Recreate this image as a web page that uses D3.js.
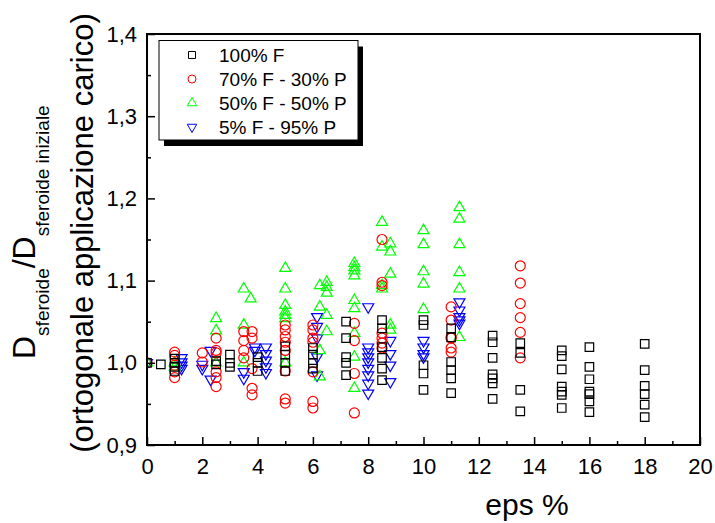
<!DOCTYPE html>
<html>
<head>
<meta charset="utf-8">
<script src="https://cdn.jsdelivr.net/npm/d3@7"></script>
<style>
  body { margin: 0; background: #fff; }
  text { font-family: Arial, "Liberation Sans", Helvetica, sans-serif; fill: #000; }
</style>
</head>
<body>
<div id="chart"></div>
<script>
// Data: [eps %, D/D0]
const seriesNames = ['100% F', '70% F - 30% P', '50% F - 50% P', '5% F - 95% P'];

const f100 = [
  [0, 1.0], [0.5, 0.998],
  [1, 1.005], [1, 1.0], [1, 0.995], [1, 0.99],
  [2.5, 1.002], [2.5, 0.998],
  [3, 1.01], [3, 1.0], [3, 0.995],
  [4, 1.007], [4, 1.0], [4, 0.99],
  [5, 1.02], [5, 1.01], [5, 1.0], [5, 0.99],
  [6, 1.018], [6, 1.01], [6, 1.0], [6, 0.993],
  [7.2, 1.05], [7.2, 1.03], [7.2, 1.007], [7.2, 1.0], [7.2, 0.985],
  [8.5, 1.052], [8.5, 1.042], [8.5, 1.019], [8.5, 1.006], [8.5, 0.993], [8.5, 0.979],
  [10, 1.052], [10, 1.046], [10, 0.997], [10, 0.987], [10, 0.967],
  [11, 1.042], [11, 1.031], [11, 1.001], [11, 0.991], [11, 0.981], [11, 0.963],
  [12.5, 1.033], [12.5, 1.025], [12.5, 1.006], [12.5, 0.986], [12.5, 0.981], [12.5, 0.975], [12.5, 0.956],
  [13.5, 1.024], [13.5, 1.012], [13.5, 0.967], [13.5, 0.941],
  [15, 1.015], [15, 1.008], [15, 0.992], [15, 0.971], [15, 0.965], [15, 0.961], [15, 0.945],
  [16, 1.019], [16, 0.995], [16, 0.98], [16, 0.965], [16, 0.962], [16, 0.953], [16, 0.94],
  [18, 1.023], [18, 0.991], [18, 0.972], [18, 0.962], [18, 0.949], [18, 0.934]
];

const f70p30 = [
  [0, 1.0],
  [1, 1.013], [1, 1.009], [1, 0.997], [1, 0.989], [1, 0.982],
  [2, 1.012], [2, 1.001],
  [2.5, 1.03], [2.5, 1.015], [2.5, 1.012], [2.5, 0.989], [2.5, 0.982], [2.5, 0.971],
  [3.5, 1.038], [3.5, 1.027], [3.5, 1.015], [3.5, 1.006],
  [3.8, 1.038], [3.8, 1.03], [3.8, 0.993], [3.8, 0.969], [3.8, 0.961],
  [5, 1.046], [5, 1.04], [5, 1.032], [5, 1.025], [5, 1.015], [5, 0.99], [5, 0.956], [5, 0.951],
  [6, 1.046], [6, 1.04], [6, 1.03], [6, 1.025], [6, 0.989], [6, 0.953], [6, 0.945],
  [7.5, 1.048], [7.5, 1.027], [7.5, 0.987], [7.5, 0.939],
  [8.5, 1.15], [8.5, 1.098], [8.5, 1.094], [8.5, 1.036], [8.5, 1.03], [8.5, 1.024], [8.5, 1.018],
  [11, 1.068], [11, 1.052], [11, 1.031], [11, 1.03], [11, 1.018], [11, 1.013],
  [13.5, 1.118], [13.5, 1.097], [13.5, 1.072], [13.5, 1.055], [13.5, 1.037], [13.5, 1.006]
];

const f50p50 = [
  [0, 1.0],
  [1, 1.0], [1, 0.995],
  [2.5, 1.054], [2.5, 1.039], [2.5, 1.0],
  [3.5, 1.09], [3.5, 1.046], [3.5, 1.0],
  [3.75, 1.078],
  [5, 1.115], [5, 1.09], [5, 1.07], [5, 1.062], [5, 1.058], [5, 1.054], [5, 1.0],
  [6.25, 1.094], [6.25, 1.068], [6.25, 1.015], [6.25, 0.983],
  [6.5, 1.098], [6.5, 1.092], [6.5, 1.085], [6.5, 1.058], [6.5, 1.038],
  [7.5, 1.121], [7.5, 1.116], [7.5, 1.112], [7.5, 1.106], [7.5, 1.076], [7.5, 1.066], [7.5, 1.036], [7.5, 1.007], [7.5, 0.969],
  [8.5, 1.171], [8.5, 1.141], [8.5, 1.094], [8.5, 1.09],
  [8.8, 1.145], [8.8, 1.135], [8.8, 1.108], [8.8, 1.046], [8.8, 1.04],
  [10, 1.161], [10, 1.144], [10, 1.111], [10, 1.096], [10, 1.065],
  [11.3, 1.189], [11.3, 1.175], [11.3, 1.144], [11.3, 1.11], [11.3, 1.09], [11.3, 1.031]
];

const f5p95 = [
  [0, 1.0],
  [1.25, 1.006], [1.25, 1.001], [1.25, 0.997], [1.25, 0.993],
  [2, 0.998], [2, 0.993],
  [2.3, 1.015], [2.3, 0.98],
  [3.5, 0.989], [3.5, 0.981],
  [3.9, 1.019], [3.9, 1.015],
  [4.3, 1.019], [4.3, 1.011], [4.3, 1.003], [4.3, 0.995], [4.3, 0.988],
  [6.15, 1.056], [6.15, 1.044], [6.15, 1.03], [6.15, 1.007], [6.15, 0.985],
  [8, 1.068], [8, 1.019], [8, 1.013], [8, 1.007], [8, 1.001], [8, 0.993], [8, 0.985], [8, 0.975], [8, 0.963],
  [8.8, 1.027], [8.8, 1.011], [8.8, 0.997], [8.8, 0.977],
  [10, 1.027], [10, 1.019], [10, 1.011], [10, 1.007],
  [11.3, 1.074], [11.3, 1.064], [11.3, 1.056], [11.3, 1.052], [11.3, 1.048]
];

const xMajorTicks = [0, 2, 4, 6, 8, 10, 12, 14, 16, 18, 20];
const xMinorTicks = [1, 3, 5, 7, 9, 11, 13, 15, 17, 19];
const yMajorTicks = [0.9, 1.0, 1.1, 1.2, 1.3, 1.4];
const yMinorTicks = [0.95, 1.05, 1.15, 1.25, 1.35];

function renderChart() {
  const W = 715, H = 523;
  const plot = { left: 147, right: 700, top: 34, bottom: 445 };

  const svg = d3.select('#chart').append('svg')
    .attr('width', W)
    .attr('height', H);

  const x = d3.scaleLinear().domain([0, 20]).range([plot.left, plot.right]);
  const y = d3.scaleLinear().domain([0.9, 1.4]).range([plot.bottom, plot.top]);

  svg.append('clipPath').attr('id', 'plotclip')
    .append('rect')
    .attr('x', plot.left).attr('y', plot.top)
    .attr('width', plot.right - plot.left)
    .attr('height', plot.bottom - plot.top);

  // series styles; drawn back to front
  const triSize = 11 * 11 * Math.sqrt(3) / 4;
  const layers = [
    { data: f5p95, color: '#0000ff', shape: d3.symbolTriangle, size: triSize, rot: 180 },
    { data: f50p50, color: '#00ff00', shape: d3.symbolTriangle, size: triSize, rot: 0 },
    { data: f70p30, color: '#ff0000', shape: d3.symbolCircle, size: Math.PI * 25, rot: 0 },
    { data: f100, color: '#000000', shape: d3.symbolSquare, size: 8.5 * 8.5, rot: 0 }
  ];

  const marks = svg.append('g').attr('clip-path', 'url(#plotclip)');
  layers.forEach(l => {
    marks.append('g').selectAll('path')
      .data(l.data)
      .enter()
      .append('path')
      .attr('d', d3.symbol().type(l.shape).size(l.size))
      .attr('transform', d => `translate(${x(d[0])},${y(d[1])}) rotate(${l.rot})`)
      .attr('fill', 'none')
      .attr('stroke', l.color)
      .attr('stroke-width', 1.2);
  });

  // axes with inward ticks
  const fmt = d => d3.format('.1f')(d).replace('.', ',');

  const xAxis = svg.append('g')
    .attr('transform', `translate(0,${plot.bottom})`)
    .call(d3.axisBottom(x).tickValues(xMajorTicks).tickSize(-8).tickPadding(13));
  svg.append('g')
    .attr('transform', `translate(0,${plot.bottom})`)
    .call(d3.axisBottom(x).tickValues(xMinorTicks).tickSize(-4).tickFormat(''));

  const yAxis = svg.append('g')
    .attr('transform', `translate(${plot.left},0)`)
    .call(d3.axisLeft(y).tickValues(yMajorTicks).tickSize(-8).tickPadding(10).tickFormat(fmt));
  svg.append('g')
    .attr('transform', `translate(${plot.left},0)`)
    .call(d3.axisLeft(y).tickValues(yMinorTicks).tickSize(-4).tickFormat(''));

  svg.selectAll('.domain').remove();
  svg.selectAll('.tick line').attr('stroke', '#000').attr('stroke-width', 1.5);
  xAxis.selectAll('text').style('font-size', '22px').attr('fill', '#000');
  yAxis.selectAll('text').style('font-size', '22px').attr('fill', '#000');

  svg.append('rect')
    .attr('x', plot.left).attr('y', plot.top)
    .attr('width', plot.right - plot.left)
    .attr('height', plot.bottom - plot.top)
    .attr('fill', 'none')
    .attr('stroke', '#000')
    .attr('stroke-width', 2);

  // axis titles
  svg.append('text')
    .attr('x', 527)
    .attr('y', 515)
    .attr('text-anchor', 'middle')
    .style('font-size', '30px')
    .text('eps %');

  const yt1 = svg.append('text')
    .attr('transform', 'translate(35,359) rotate(-90)')
    .attr('text-anchor', 'start')
    .style('font-size', '32px');
  yt1.append('tspan').text('D');
  yt1.append('tspan').attr('dy', 14).style('font-size', '19px').text('sferoide');
  yt1.append('tspan').attr('dy', -14).text('/D');
  yt1.append('tspan').attr('dy', 14).style('font-size', '19px').text('sferoide iniziale');

  svg.append('text')
    .attr('transform', 'translate(93,233) rotate(-90)')
    .attr('text-anchor', 'middle')
    .style('font-size', '31px')
    .text('(ortogonale applicazione carico)');

  // legend with drop shadow
  const lg = { x: 159, y: 40.5, w: 199, h: 99.5 };
  svg.append('rect')
    .attr('x', lg.x + 5).attr('y', lg.y + 6)
    .attr('width', lg.w).attr('height', lg.h)
    .attr('fill', '#000');
  svg.append('rect')
    .attr('x', lg.x).attr('y', lg.y)
    .attr('width', lg.w).attr('height', lg.h)
    .attr('fill', '#fff')
    .attr('stroke', '#000')
    .attr('stroke-width', 1);

  const legendShapes = [
    { shape: d3.symbolSquare, size: 7 * 7, color: '#000000', rot: 0 },
    { shape: d3.symbolCircle, size: Math.PI * 16, color: '#ff0000', rot: 0 },
    { shape: d3.symbolTriangle, size: 9.5 * 9.5 * Math.sqrt(3) / 4, color: '#00ff00', rot: 0 },
    { shape: d3.symbolTriangle, size: 9.5 * 9.5 * Math.sqrt(3) / 4, color: '#0000ff', rot: 180 }
  ];

  seriesNames.forEach((name, i) => {
    const cy = 55 + i * 24;
    const s = legendShapes[i];
    svg.append('path')
      .attr('d', d3.symbol().type(s.shape).size(s.size))
      .attr('transform', `translate(192,${cy}) rotate(${s.rot})`)
      .attr('fill', 'none')
      .attr('stroke', s.color)
      .attr('stroke-width', 1);
    svg.append('text')
      .attr('x', 219)
      .attr('y', cy + 7)
      .style('font-size', '19px')
      .text(name);
  });
}

renderChart();
</script>
</body>
</html>
